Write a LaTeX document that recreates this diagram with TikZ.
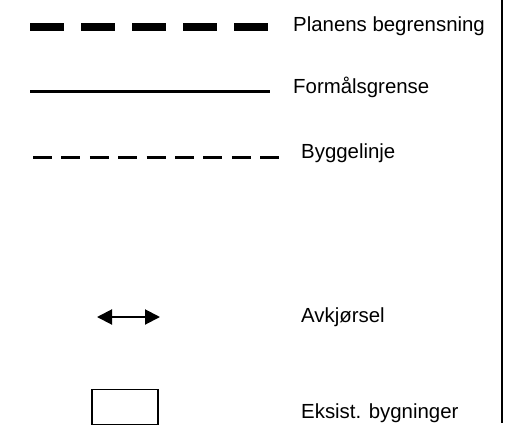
\documentclass[tikz,border=0pt]{standalone}
\usepackage{fontspec}
\setmainfont{Liberation Sans}
\usetikzlibrary{arrows.meta}

\begin{document}
\begin{tikzpicture}[
  x=1pt, y=-1pt,
  lbl/.style={anchor=base west, inner sep=0pt, font=\fontsize{20.4}{24}\selectfont},
  plangrense/.style={line width=8pt, dash pattern=on 34pt off 17pt},
  formalgrense/.style={line width=2.5pt},
  byggelinje/.style={line width=3pt, dash pattern=on 19pt off 9.4pt},
  avkjorsel/.style={{Triangle[length=15pt,width=15pt]}-{Triangle[length=15pt,width=15pt]}, line width=2pt},
  bygning/.style={draw, line width=1.5pt, minimum width=66pt, minimum height=35pt, inner sep=0pt}
]
\useasboundingbox (0,0) rectangle (532,426);

\coordinate (pb1) at (30,27);
\coordinate (pb2) at (270,27);
\coordinate (fg1) at (30,91.5);
\coordinate (fg2) at (270,91.5);
\coordinate (bl1) at (33,157.5);
\coordinate (bl2) at (279,157.5);
\coordinate (av1) at (97,317);
\coordinate (av2) at (160,317);
\coordinate (kant1) at (502,0);
\coordinate (kant2) at (502,423);

\node[lbl] (planens) at (293,31) {Planens begrensning};
\node[lbl] (formal)  at (293,93) {Formålsgrense};
\node[lbl] (bygglbl) at (301,158) {Byggelinje};
\node[lbl] (avkj)    at (301,322) {Avkjørsel};
\node[lbl] (eksist)  at (301,418) {Eksist. bygninger};
\node[bygning] (hus) at (125,407) {};

\draw[plangrense] (pb1) -- (pb2);
\draw[formalgrense] (fg1) -- (fg2);
\draw[byggelinje] (bl1) -- (bl2);
\draw[avkjorsel] (av1) -- (av2);
\draw[line width=2pt] (kant1) -- (kant2);
\end{tikzpicture}
\end{document}
